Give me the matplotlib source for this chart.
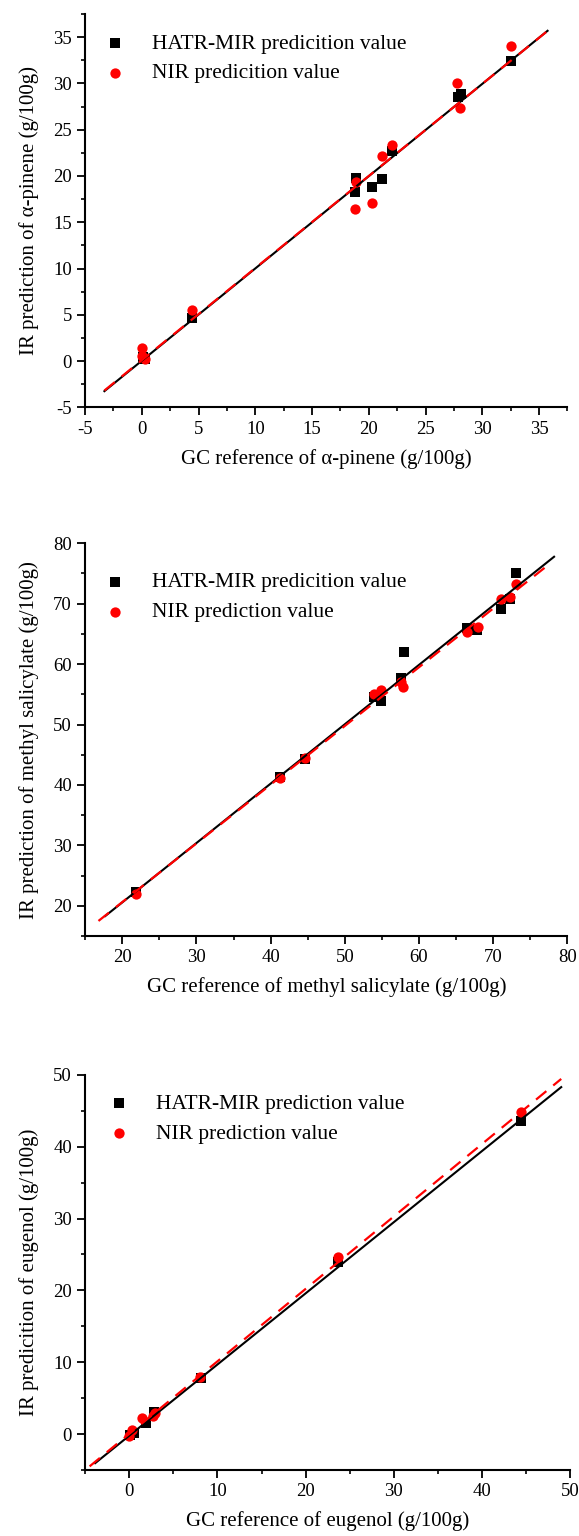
import numpy as np
import matplotlib
matplotlib.use("Agg")
import matplotlib.pyplot as plt
from matplotlib.ticker import MultipleLocator

plt.rcParams['font.family'] = ['Liberation Serif', 'DejaVu Serif']
plt.rcParams['axes.unicode_minus'] = False

# --- dados ---
# alpha-pineno
pin_mir_x = [0.1, 0.3, 4.4, 18.8, 18.9, 20.3, 21.2, 22.05, 27.9, 28.1, 32.5]
pin_mir_y = [0.4, 0.2, 4.6, 18.3, 19.8, 18.8, 19.7, 22.7, 28.5, 28.9, 32.4]
pin_nir_x = [0.05, 0.05, 0.25, 4.4, 18.8, 18.9, 20.3, 21.2, 22.05, 27.8, 28.0, 32.5]
pin_nir_y = [1.4, 0.6, 0.2, 5.5, 16.4, 19.4, 17.1, 22.2, 23.3, 30.0, 27.3, 34.0]

# salicilato de metila
sal_mir_x = [21.9, 41.3, 44.6, 54.0, 54.9, 57.6, 58.0, 66.4, 67.75, 71.0, 72.2, 73.1]
sal_mir_y = [22.3, 41.3, 44.3, 54.5, 53.9, 57.7, 62.0, 65.9, 65.6, 69.1, 70.7, 75.1]
sal_nir_x = [21.9, 41.3, 44.6, 54.0, 54.9, 57.6, 57.85, 66.4, 68.0, 71.0, 72.2, 73.1]
sal_nir_y = [22.0, 41.2, 44.5, 55.0, 55.7, 57.0, 56.2, 65.3, 66.2, 70.8, 71.1, 73.3]

# eugenol
eug_mir_x = [0.1, 0.5, 1.9, 2.85, 8.1, 23.7, 44.4]
eug_mir_y = [-0.2, 0.2, 1.5, 3.1, 7.8, 23.9, 43.6]
eug_nir_x = [0.0, 0.3, 1.5, 2.7, 2.9, 8.0, 23.7, 44.4]
eug_nir_y = [-0.3, 0.5, 2.2, 2.5, 2.9, 8.0, 24.7, 44.8]

# retas de ajuste: (intercepto, inclinacao, x_ini, x_fim)
pin_fit_mir = (0.04, 0.997, -3.3, 35.75)
pin_fit_nir = (0.10, 0.995, -3.3, 35.8)
sal_fit_mir = (0.90, 0.983, 17.7, 78.2)
sal_fit_nir = (1.17, 0.972, 16.8, 77.7)
eug_fit_mir = (-0.23, 0.991, -3.86, 48.97)
eug_fit_nir = (0.03, 1.009, -4.49, 48.97)

paineis = [
    dict(mir=(pin_mir_x, pin_mir_y), nir=(pin_nir_x, pin_nir_y),
         fit_mir=pin_fit_mir, fit_nir=pin_fit_nir,
         lim=(-5, 37.5), major=5, minor=2.5,
         leg=["HATR-MIR predicition value", "NIR predicition value"],
         xlabel="GC reference of α-pinene (g/100g)",
         ylabel="IR prediction of α-pinene (g/100g)",
         pos=[0.147, 0.7348, 0.833, 0.2561], leg_xy=(0.022, 0.950)),
    dict(mir=(sal_mir_x, sal_mir_y), nir=(sal_nir_x, sal_nir_y),
         fit_mir=sal_fit_mir, fit_nir=sal_fit_nir,
         lim=(15, 80), major=10, minor=5,
         leg=["HATR-MIR predicition value", "NIR prediction value"],
         xlabel="GC reference of methyl salicylate (g/100g)",
         ylabel="IR prediction of methyl salicylate (g/100g)",
         pos=[0.147, 0.3906, 0.833, 0.2557], leg_xy=(0.022, 0.926)),
    dict(mir=(eug_mir_x, eug_mir_y), nir=(eug_nir_x, eug_nir_y),
         fit_mir=eug_fit_mir, fit_nir=eug_fit_nir,
         lim=(-5, 50), major=10, minor=5,
         leg=["HATR-MIR prediction value", "NIR prediction value"],
         xlabel="GC reference of eugenol (g/100g)",
         ylabel="IR predicition of eugenol (g/100g)",
         pos=[0.147, 0.0430, 0.838, 0.2572], leg_xy=(0.030, 0.952)),
]

fig = plt.figure(figsize=(5.79, 15.36), dpi=100)

for p in paineis:
    ax = fig.add_axes(p['pos'])
    h1 = ax.scatter(p['mir'][0], p['mir'][1], marker='s', s=50, c='black',
                    linewidths=0, zorder=3)
    h2 = ax.scatter(p['nir'][0], p['nir'][1], marker='o', s=55, c='red',
                    linewidths=0, zorder=3)

    a, b, x0, x1 = p['fit_mir']
    xs = np.array([x0, x1])
    ax.plot(xs, a + b * xs, color='black', lw=1.5, zorder=4)
    a, b, x0, x1 = p['fit_nir']
    xs = np.array([x0, x1])
    ax.plot(xs, a + b * xs, color='red', lw=1.6, ls=(0, (6, 4)), zorder=5)

    ax.set_xlim(p['lim'])
    ax.set_ylim(p['lim'])
    ax.xaxis.set_major_locator(MultipleLocator(p['major']))
    ax.yaxis.set_major_locator(MultipleLocator(p['major']))
    ax.xaxis.set_minor_locator(MultipleLocator(p['minor']))
    ax.yaxis.set_minor_locator(MultipleLocator(p['minor']))

    for s in ['top', 'right']:
        ax.spines[s].set_visible(False)
    for s in ['left', 'bottom']:
        ax.spines[s].set_linewidth(1.5)
    ax.tick_params(which='major', direction='out', length=5.5, width=1.3,
                   labelsize=13.5, pad=4)
    ax.tick_params(which='minor', direction='out', length=3, width=1.2)

    ax.set_xlabel(p['xlabel'], fontsize=15, labelpad=8)
    ax.set_ylabel(p['ylabel'], fontsize=15, labelpad=10)

    ax.legend([h1, h2], p['leg'], loc='upper left', bbox_to_anchor=p['leg_xy'],
              frameon=False, fontsize=15.5, borderpad=0, borderaxespad=0,
              handlelength=1.8, handletextpad=0.8, labelspacing=0.45,
              scatterpoints=1)

plt.savefig("out.png", dpi=100)
plt.close()
